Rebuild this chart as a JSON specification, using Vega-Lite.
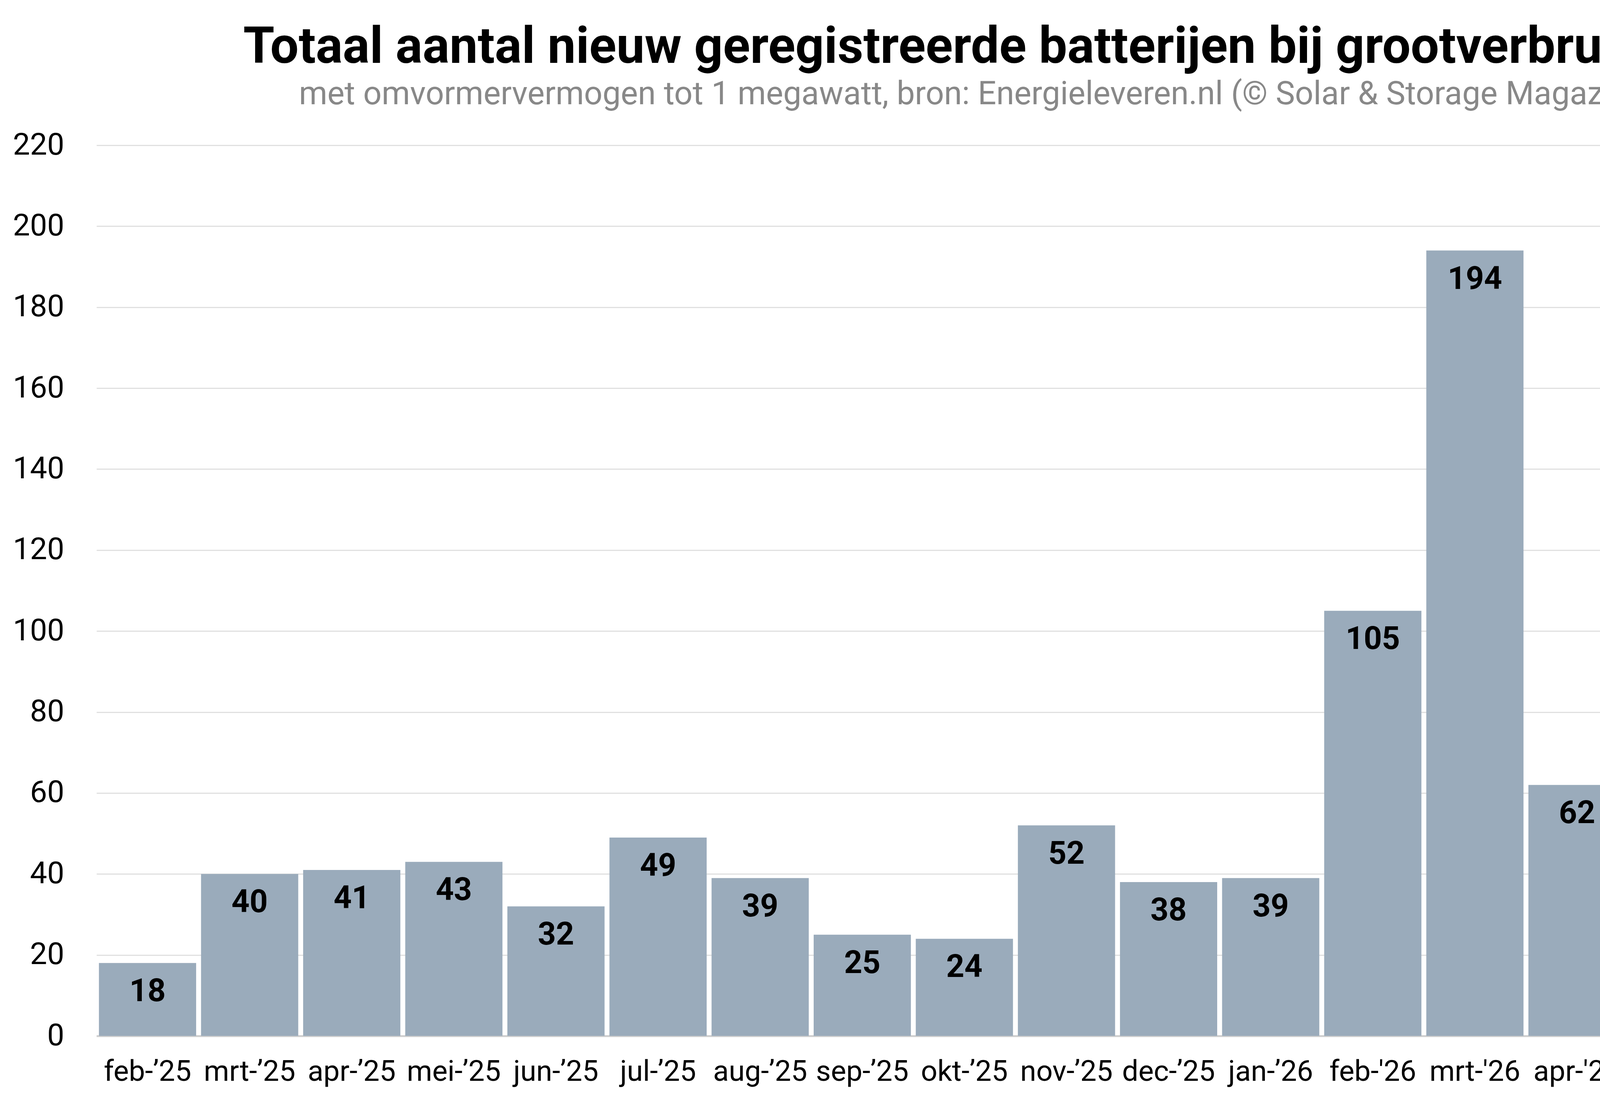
{
  "$schema": "https://vega.github.io/schema/vega-lite/v6.json",
  "width": 4999,
  "height": 2812,
  "autosize": {"type": "fit", "contains": "padding"},
  "padding": {"left": 32, "top": 58, "right": 47, "bottom": 30},
  "background": "white",
  "config": {
    "font": "Roboto",
    "view": {"stroke": null}
  },
  "title": {
    "text": "Totaal aantal nieuw geregistreerde batterijen bij grootverbruikers",
    "subtitle": "met omvormervermogen tot 1 megawatt, bron: Energieleveren.nl (© Solar & Storage Magazine)",
    "anchor": "middle",
    "dx": -95,
    "fontSize": 129,
    "fontWeight": "bold",
    "color": "#000000",
    "subtitleFontSize": 83,
    "subtitleColor": "#888888",
    "subtitlePadding": 13,
    "offset": 48
  },
  "data": {
    "values": [
      {"maand": "feb-’25", "aantal": 18},
      {"maand": "mrt-’25", "aantal": 40},
      {"maand": "apr-’25", "aantal": 41},
      {"maand": "mei-’25", "aantal": 43},
      {"maand": "jun-’25", "aantal": 32},
      {"maand": "jul-’25", "aantal": 49},
      {"maand": "aug-’25", "aantal": 39},
      {"maand": "sep-’25", "aantal": 25},
      {"maand": "okt-’25", "aantal": 24},
      {"maand": "nov-’25", "aantal": 52},
      {"maand": "dec-’25", "aantal": 38},
      {"maand": "jan-’26", "aantal": 39},
      {"maand": "feb-'26", "aantal": 105},
      {"maand": "mrt-'26", "aantal": 194},
      {"maand": "apr-'26", "aantal": 62},
      {"maand": "mei-'26", "aantal": 45},
      {"maand": "jun-'26", "aantal": 76},
      {"maand": "jul-'26", "aantal": 58}
    ]
  },
  "encoding": {
    "x": {
      "field": "maand",
      "type": "nominal",
      "sort": null,
      "scale": {"paddingInner": 0.048, "paddingOuter": 0.024},
      "axis": {
        "title": null,
        "labelAngle": 0,
        "labelFontSize": 74,
        "labelLimit": 0,
        "labelColor": "#000000",
        "labelPadding": 56,
        "ticks": false,
        "domainColor": "#d0d0d0",
        "domainWidth": 5
      }
    },
    "y": {
      "field": "aantal",
      "type": "quantitative",
      "scale": {"domain": [0, 220]},
      "axis": {
        "title": null,
        "values": [0, 20, 40, 60, 80, 100, 120, 140, 160, 180, 200, 220],
        "labelFontSize": 78,
        "labelColor": "#000000",
        "labelPadding": 83,
        "ticks": false,
        "domain": false,
        "gridColor": "#e0e0e0",
        "gridWidth": 3
      }
    }
  },
  "layer": [
    {
      "mark": {"type": "bar", "color": "#9aabbb"}
    },
    {
      "mark": {
        "type": "text",
        "baseline": "middle",
        "dy": 74,
        "fontSize": 81,
        "fontWeight": "bold",
        "color": "#000000"
      },
      "encoding": {
        "text": {"field": "aantal", "type": "quantitative"}
      }
    }
  ]
}
